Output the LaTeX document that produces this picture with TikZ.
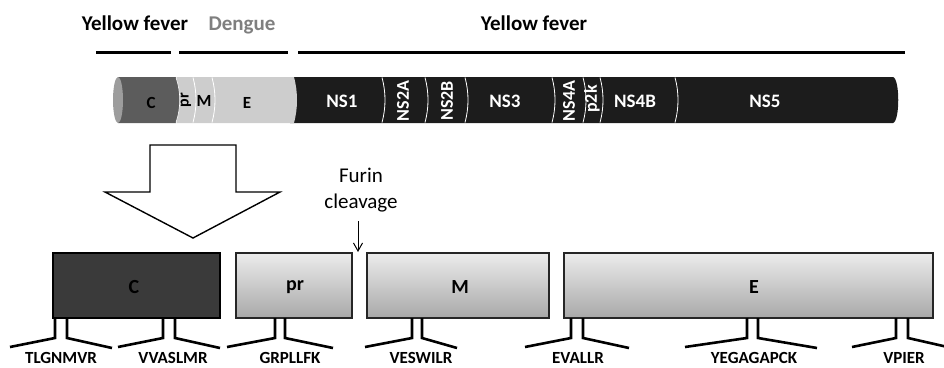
\documentclass[tikz,border=0pt]{standalone}
\usepackage{fontspec}
\setmainfont{Carlito}
\usetikzlibrary{arrows.meta}
\definecolor{nsblack}{HTML}{1C1C1C}
\definecolor{cgray}{HTML}{5C5C5C}
\definecolor{lgray}{HTML}{CDCDCD}
\definecolor{capgray}{HTML}{9D9D9D}
\definecolor{dengue}{HTML}{7F7F7F}
\definecolor{cbox}{HTML}{3A3A3A}
\tikzset{
  hdr/.style={font=\bfseries\fontsize{21}{24}\selectfont, inner sep=0pt, anchor=base},
  seg/.style={font=\bfseries\fontsize{19}{21}\selectfont, inner sep=0pt},
  lseg/.style={font=\bfseries\fontsize{17}{19}\selectfont, inner sep=0pt},
  vseg/.style={font=\bfseries\fontsize{18}{20}\selectfont, inner sep=0pt, rotate=90},
  sep/.style={draw=white, line width=0.8pt},
  hline/.style={line width=3pt},
  protbox/.style={draw=black!85, line width=1.6pt, top color=gray!15, bottom color=gray!68},
  boxlbl/.style={font=\bfseries\fontsize{20}{22}\selectfont, inner sep=0pt},
  epi/.style={line width=2.6pt, line join=miter},
  epilbl/.style={font=\bfseries\fontsize{17}{19}\selectfont, inner sep=0pt, anchor=base},
}
\newcommand{\sepline}[1]{\draw[sep] (#1,77.5) .. controls (#1+4,92) and (#1+4,108) .. (#1,122.5);}
\newcommand{\epitope}[7]{%
  \coordinate (#1a) at (#2,318);
  \coordinate (#1b) at (#2,338);
  \coordinate (#1c) at (#4,347);
  \coordinate (#1d) at (#3,318);
  \coordinate (#1e) at (#3,338);
  \coordinate (#1f) at (#5,348);
  \draw[epi] (#1a) -- (#1b) -- (#1c);
  \draw[epi] (#1d) -- (#1e) -- (#1f);
  \node[epilbl] (#1l) at (#7,363.5) {#6};
}
\begin{document}
\begin{tikzpicture}[x=1pt,y=-1pt]
\useasboundingbox (0,0) rectangle (944,367);
% headers
\node[hdr] (yf1) at (135,30) {Yellow fever};
\node[hdr, text=dengue] (den) at (242,30) {Dengue};
\node[hdr] (yf2) at (534,30) {Yellow fever};
\coordinate (l1a) at (96,52); \coordinate (l1b) at (171,52);
\coordinate (l2a) at (179,52); \coordinate (l2b) at (288,52);
\coordinate (l3a) at (298,52); \coordinate (l3b) at (905,52);
\draw[hline] (l1a) -- (l1b);
\draw[hline] (l2a) -- (l2b);
\draw[hline] (l3a) -- (l3b);
% genome bar
\fill[nsblack] (290,77) -- (893,77) .. controls (900,79) and (900,121) .. (893,123) -- (290,123) -- cycle;
\fill[lgray] (177,77) -- (294,77) .. controls (298,92) and (298,108) .. (294,123) -- (177,123) -- cycle;
\fill[cgray] (118,77) -- (176,77) .. controls (181,92) and (181,108) .. (176,123) -- (118,123) -- cycle;
\draw[white, line width=0.6pt] (176,77.5) .. controls (181,92) and (181,108) .. (176,122.5);
\fill[capgray] (118,100) ellipse [x radius=5, y radius=23];
\sepline{193}
\sepline{212}
\sepline{382}
\sepline{425}
\sepline{465}
\sepline{552}
\sepline{583}
\sepline{600}
\sepline{675}
\node[lseg] (sC) at (151,103) {C};
\node[vseg, font=\bfseries\fontsize{16}{18}\selectfont] (spr) at (186,100) {pr};
\node[lseg] (sM) at (204,101) {M};
\node[lseg] (sE) at (247,103) {E};
\node[seg, text=white] (sNS1) at (342,101) {NS1};
\node[vseg, text=white] (sNS2A) at (403,101) {NS2A};
\node[vseg, text=white] (sNS2B) at (447,101) {NS2B};
\node[seg, text=white] (sNS3) at (505,101) {NS3};
\node[vseg, text=white] (sNS4A) at (569,101) {NS4A};
\node[vseg, text=white] (sp2k) at (592,99) {p2k};
\node[seg, text=white] (sNS4B) at (635,101) {NS4B};
\node[seg, text=white] (sNS5) at (765,101) {NS5};
% big arrow
\draw[line width=1.4pt, fill=white, line join=miter]
  (150,145) -- (236,145) -- (236,192) -- (280,192) -- (193,238) -- (105,192) -- (150,192) -- cycle;
% furin
\node[font=\fontsize{21}{26}\selectfont, align=center, inner sep=0pt] (furin) at (361,190) {Furin\\cleavage};
\coordinate (cut) at (358,252);
\draw[-{Straight Barb[length=8pt,width=9pt]}, line width=1pt] (358,221) -- (cut);
% protein boxes
\draw[fill=cbox, draw=black, line width=1.6pt] (53,253) rectangle (220,318);
\node[boxlbl] (bC) at (134,287) {C};
\draw[protbox] (236,253) rectangle (352,318);
\node[boxlbl] (bpr) at (295,287) {pr};
\draw[protbox] (367,253) rectangle (549,318);
\node[boxlbl] (bM) at (460,287) {M};
\draw[protbox] (564,253) rectangle (933,318);
\node[boxlbl] (bE) at (754,287) {E};
% epitopes
\epitope{t}{55}{67}{10}{112}{TLGNMVR}{61}
\epitope{v}{163}{175}{118}{220}{VVASLMR}{173}
\epitope{g}{275}{285}{227}{333}{GRPLLFK}{290}
\epitope{w}{412}{422}{365}{457}{VESWILR}{421}
\epitope{e}{571}{583}{525}{629}{EVALLR}{578}
\epitope{y}{747}{758}{685}{817}{YEGAGAPCK}{754}
\epitope{p}{896}{908}{852}{952}{VPIER}{904}
\end{tikzpicture}
\end{document}
